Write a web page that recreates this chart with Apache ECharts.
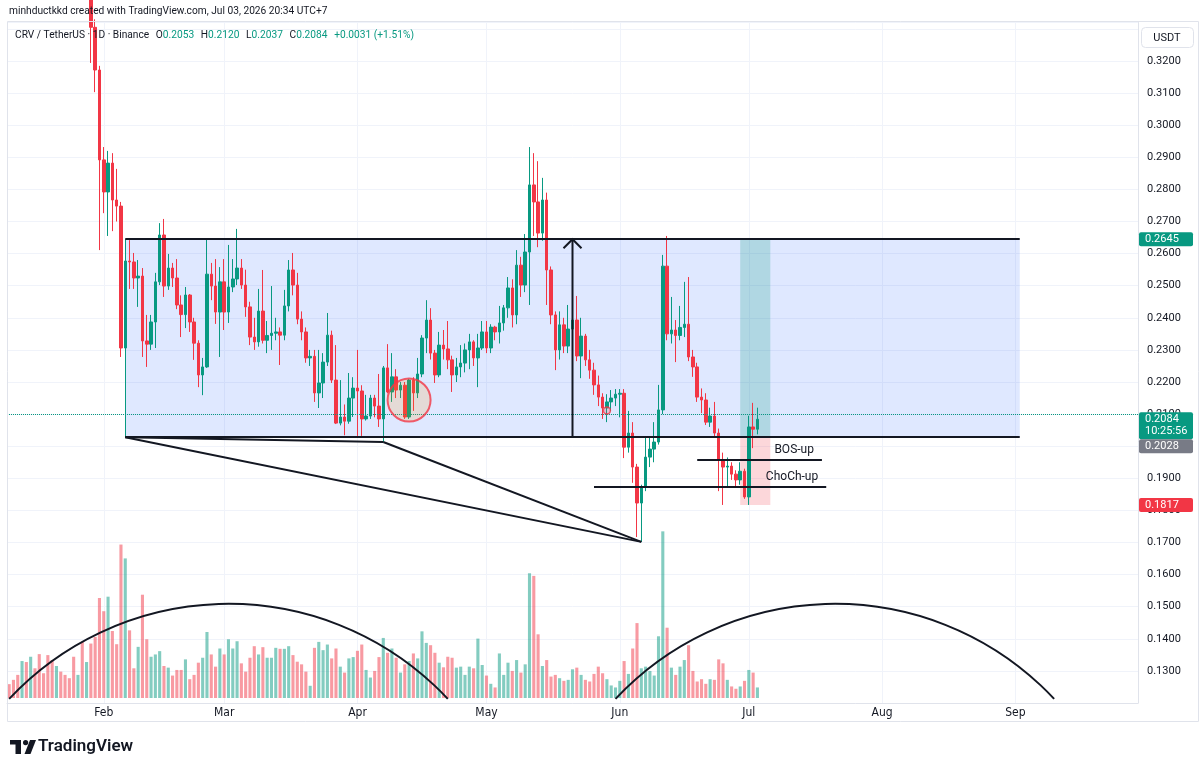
<!DOCTYPE html>
<html>
<head>
<meta charset="utf-8">
<title>CRV / TetherUS 1D</title>
<script src="https://cdn.jsdelivr.net/npm/echarts@6/dist/echarts.min.js"></script>
<style>
  html, body { margin: 0; padding: 0; background: #fff; }
  #chart { width: 1200px; height: 772px; }
</style>
</head>
<body>
<div id="chart"></div>
<script>
// one candle per day from firstDay on, [open, high, low, close]
const firstDay = "2026-01-10";
const lastDay = "2026-09-29";
const candles = [
  [0.430, 0.436, 0.421, 0.424], [0.424, 0.428, 0.415, 0.418], [0.418, 0.421, 0.408, 0.411], [0.411, 0.420, 0.406, 0.416],
  [0.416, 0.419, 0.405, 0.408], [0.408, 0.417, 0.404, 0.413], [0.413, 0.415, 0.401, 0.404], [0.404, 0.407, 0.396, 0.399],
  [0.399, 0.402, 0.392, 0.395], [0.395, 0.398, 0.385, 0.388], [0.388, 0.391, 0.379, 0.382], [0.382, 0.390, 0.378, 0.387],
  [0.387, 0.389, 0.376, 0.379], [0.379, 0.382, 0.371, 0.374], [0.374, 0.377, 0.366, 0.369], [0.369, 0.372, 0.360, 0.363],
  [0.363, 0.370, 0.359, 0.367], [0.367, 0.369, 0.353, 0.356], [0.356, 0.362, 0.351, 0.359], [0.359, 0.361, 0.3194, 0.3305],
  [0.3305, 0.3330, 0.3103, 0.3172], [0.3172, 0.3185, 0.2611, 0.2892],
  // Feb
  [0.2892, 0.2932, 0.2726, 0.2792], [0.2792, 0.2920, 0.2655, 0.2882], [0.2882, 0.2913, 0.2670, 0.2767], [0.2767, 0.2864, 0.2700, 0.2748],
  [0.2748, 0.2761, 0.2278, 0.2306], [0.2306, 0.2645, 0.2028, 0.2577], [0.2577, 0.2642, 0.2490, 0.2574], [0.2574, 0.2602, 0.2490, 0.2524],
  [0.2524, 0.2580, 0.2434, 0.2530], [0.2530, 0.2555, 0.2278, 0.2328], [0.2328, 0.2409, 0.2247, 0.2318], [0.2318, 0.2409, 0.2300, 0.2387],
  [0.2387, 0.2540, 0.2306, 0.2512], [0.2512, 0.2695, 0.2502, 0.2658], [0.2658, 0.2708, 0.2465, 0.2499], [0.2499, 0.2599, 0.2487, 0.2555],
  [0.2555, 0.2571, 0.2496, 0.2524], [0.2524, 0.2583, 0.2427, 0.2440], [0.2440, 0.2470, 0.2340, 0.2410], [0.2410, 0.2496, 0.2368, 0.2471],
  [0.2471, 0.2474, 0.2356, 0.2387], [0.2387, 0.2400, 0.2269, 0.2321], [0.2321, 0.2330, 0.2184, 0.2222], [0.2222, 0.2275, 0.2159, 0.2247],
  [0.2247, 0.2645, 0.2244, 0.2536], [0.2536, 0.2571, 0.2455, 0.2499], [0.2499, 0.2583, 0.2381, 0.2418], [0.2418, 0.2558, 0.2278, 0.2512],
  // Mar
  [0.2512, 0.2583, 0.2362, 0.2418], [0.2418, 0.2627, 0.2384, 0.2496], [0.2496, 0.2583, 0.2480, 0.2521], [0.2521, 0.2677, 0.2502, 0.2555],
  [0.2555, 0.2583, 0.2490, 0.2502], [0.2502, 0.2550, 0.2403, 0.2434], [0.2434, 0.2450, 0.2315, 0.2340], [0.2340, 0.2400, 0.2300, 0.2325],
  [0.2325, 0.2490, 0.2310, 0.2421], [0.2421, 0.2549, 0.2320, 0.2330], [0.2330, 0.2390, 0.2290, 0.2345], [0.2345, 0.2499, 0.2300, 0.2352],
  [0.2352, 0.2400, 0.2330, 0.2356], [0.2356, 0.2370, 0.2253, 0.2346], [0.2346, 0.2487, 0.2330, 0.2437], [0.2437, 0.2580, 0.2420, 0.2549],
  [0.2549, 0.2602, 0.2470, 0.2502], [0.2502, 0.2540, 0.2380, 0.2396], [0.2396, 0.2420, 0.2330, 0.2356], [0.2356, 0.2370, 0.2260, 0.2275],
  [0.2275, 0.2300, 0.2250, 0.2280], [0.2280, 0.2300, 0.2138, 0.2166], [0.2166, 0.2300, 0.2119, 0.2197], [0.2197, 0.2290, 0.2150, 0.2262],
  [0.2262, 0.2415, 0.2250, 0.2346], [0.2346, 0.2360, 0.2197, 0.2206], [0.2206, 0.2315, 0.2069, 0.2072], [0.2072, 0.2206, 0.2065, 0.2091],
  [0.2091, 0.2130, 0.2034, 0.2078], [0.2078, 0.2228, 0.2070, 0.2150], [0.2150, 0.2215, 0.2091, 0.2181],
  // Apr
  [0.2181, 0.2300, 0.2032, 0.2172], [0.2172, 0.2190, 0.2032, 0.2085], [0.2085, 0.2160, 0.2080, 0.2094], [0.2094, 0.2160, 0.2085, 0.2150],
  [0.2150, 0.2160, 0.2090, 0.2125], [0.2125, 0.2225, 0.2060, 0.2085], [0.2085, 0.2250, 0.2013, 0.2244], [0.2244, 0.2318, 0.2165, 0.2169],
  [0.2169, 0.2290, 0.2138, 0.2216], [0.2216, 0.2240, 0.2150, 0.2175], [0.2175, 0.2200, 0.2150, 0.2190], [0.2190, 0.2200, 0.2085, 0.2091],
  [0.2091, 0.2210, 0.2085, 0.2206], [0.2206, 0.2215, 0.2110, 0.2166], [0.2166, 0.2275, 0.2150, 0.2225], [0.2225, 0.2346, 0.2215, 0.2337],
  [0.2337, 0.2455, 0.2290, 0.2393], [0.2393, 0.2430, 0.2270, 0.2290], [0.2290, 0.2300, 0.2197, 0.2222], [0.2222, 0.2356, 0.2215, 0.2315],
  [0.2315, 0.2362, 0.2270, 0.2303], [0.2303, 0.2390, 0.2240, 0.2269], [0.2269, 0.2282, 0.2169, 0.2222], [0.2222, 0.2275, 0.2200, 0.2247],
  [0.2247, 0.2315, 0.2215, 0.2259], [0.2259, 0.2320, 0.2230, 0.2300], [0.2300, 0.2350, 0.2240, 0.2325], [0.2325, 0.2330, 0.2250, 0.2275],
  [0.2275, 0.2350, 0.2184, 0.2306], [0.2306, 0.2390, 0.2300, 0.2356],
  // May
  [0.2356, 0.2390, 0.2290, 0.2306], [0.2306, 0.2380, 0.2290, 0.2371], [0.2371, 0.2375, 0.2330, 0.2356], [0.2356, 0.2437, 0.2320, 0.2384],
  [0.2384, 0.2440, 0.2360, 0.2431], [0.2431, 0.2527, 0.2400, 0.2493], [0.2493, 0.2520, 0.2370, 0.2409], [0.2409, 0.2611, 0.2380, 0.2564],
  [0.2564, 0.2590, 0.2465, 0.2502], [0.2502, 0.2661, 0.2480, 0.2605], [0.2605, 0.2932, 0.2440, 0.2814], [0.2814, 0.2913, 0.2655, 0.2761],
  [0.2761, 0.2888, 0.2620, 0.2664], [0.2664, 0.2836, 0.2640, 0.2767], [0.2767, 0.2790, 0.2440, 0.2549], [0.2549, 0.2560, 0.2380, 0.2409],
  [0.2409, 0.2420, 0.2237, 0.2300], [0.2300, 0.2420, 0.2270, 0.2378], [0.2378, 0.2400, 0.2290, 0.2312], [0.2312, 0.2440, 0.2290, 0.2365],
  [0.2365, 0.2477, 0.2300, 0.2393], [0.2393, 0.2468, 0.2265, 0.2281], [0.2281, 0.2400, 0.2212, 0.2343], [0.2343, 0.2350, 0.2250, 0.2269],
  [0.2269, 0.2300, 0.2210, 0.2237], [0.2237, 0.2260, 0.2160, 0.2191], [0.2191, 0.2220, 0.2125, 0.2153], [0.2153, 0.2165, 0.2085, 0.2119],
  [0.2119, 0.2162, 0.2075, 0.2138], [0.2138, 0.2175, 0.2110, 0.2150], [0.2150, 0.2178, 0.2125, 0.2162],
  // Jun
  [0.2162, 0.2178, 0.2090, 0.2165], [0.2165, 0.2178, 0.1963, 0.1997], [0.1997, 0.2110, 0.1980, 0.2041], [0.2041, 0.2075, 0.1886, 0.1935],
  [0.1935, 0.1945, 0.1717, 0.1823], [0.1823, 0.1880, 0.1702, 0.1873], [0.1873, 0.2028, 0.1860, 0.1966], [0.1966, 0.2028, 0.1935, 0.1991],
  [0.1991, 0.2075, 0.1950, 0.2013], [0.2013, 0.2191, 0.2005, 0.2113], [0.2113, 0.2596, 0.2100, 0.2561], [0.2561, 0.2655, 0.2330, 0.2350],
  [0.2350, 0.2465, 0.2320, 0.2362], [0.2362, 0.2393, 0.2262, 0.2345], [0.2345, 0.2437, 0.2330, 0.2370], [0.2370, 0.2512, 0.2340, 0.2380],
  [0.2380, 0.2527, 0.2265, 0.2278], [0.2278, 0.2300, 0.2216, 0.2247], [0.2247, 0.2260, 0.2138, 0.2153], [0.2153, 0.2180, 0.2103, 0.2144],
  [0.2144, 0.2165, 0.2066, 0.2075], [0.2075, 0.2120, 0.2060, 0.2094], [0.2094, 0.2138, 0.2030, 0.2041], [0.2041, 0.2055, 0.1860, 0.1957],
  [0.1957, 0.1980, 0.1817, 0.1935], [0.1935, 0.1965, 0.1873, 0.1938], [0.1938, 0.1950, 0.1895, 0.1913], [0.1913, 0.1925, 0.1873, 0.1895],
  [0.1895, 0.1950, 0.1880, 0.1922], [0.1922, 0.1930, 0.1836, 0.1842],
  // Jul
  [0.1842, 0.2095, 0.1817, 0.2060], [0.2060, 0.2135, 0.1994, 0.2053], [0.2053, 0.2120, 0.2037, 0.2084]
];
// daily volume, millions
const volumes = [
  4.2, 5.5, 7.0, 11.2, 10.9, 12.5, 9.0, 13.3, 7.5, 13.0, 11.5, 9.7, 8.0, 7.0, 6.0, 12.5, 7.0, 17.0, 10.9, 16.5, 18.5, 30.3,
  26.3, 30.7, 20.3, 16.3, 46.5, 42.3, 20.5, 9.0, 15.5, 31.3, 17.8, 12.5, 13.2, 14.2, 9.7, 9.2, 6.8, 8.5, 8.5, 11.7, 5.7, 7.0, 10.7, 12.2, 20.0, 13.2, 9.5, 15.0,
  13.2, 17.8, 15.0, 17.2, 10.5, 8.0, 12.2, 15.7, 13.2, 15.4, 12.2, 12.2, 15.2, 14.9, 14.9, 15.7, 13.0, 11.0, 10.2, 8.0, 3.7, 15.2, 17.0, 14.5, 16.2, 12.0, 15.0, 9.5, 7.7, 12.0, 12.4,
  14.3, 16.2, 8.5, 6.2, 8.2, 12.4, 18.2, 13.7, 15.0, 12.2, 7.7, 10.2, 11.2, 13.5, 12.0, 20.2, 16.7, 16.0, 13.7, 10.7, 9.3, 12.5, 12.2, 9.2, 9.5, 7.0, 9.5, 9.0, 18.0, 10.0,
  6.8, 4.3, 3.2, 13.5, 7.0, 10.7, 8.2, 11.5, 7.7, 10.2, 37.8, 37.0, 19.3, 9.7, 11.5, 6.5, 7.0, 6.0, 5.2, 5.5, 8.7, 9.2, 7.0, 5.5, 5.0, 7.3, 9.5, 7.5, 5.7, 3.8, 3.2,
  5.2, 11.2, 7.3, 15.0, 22.7, 9.0, 9.5, 8.2, 6.8, 18.7, 50.5, 21.3, 9.2, 7.0, 9.5, 11.5, 16.0, 8.2, 5.0, 5.7, 4.3, 5.7, 5.5, 11.7, 10.5, 5.5, 3.5, 2.8, 3.5, 5.2,
  8.5, 7.7, 3.2
];
const monthNames = ["Jan", "Feb", "Mar", "Apr", "May", "Jun", "Jul", "Aug", "Sep", "Oct", "Nov", "Dec"];

// drawings, anchored on [day, price]
const rangeTop = 0.2645;
const rangeBottom = 0.2028;
const rangeFrom = "2026-02-06";
const rangeTo = "2026-09-02";
const wedgePoints = [["2026-02-06", 0.2028], ["2026-04-07", 0.2013], ["2026-06-06", 0.1702]];
const arrowDay = "2026-05-21";
const bosUp = {from: "2026-06-19", to: "2026-07-18", price: 0.1957};
const chochUp = {from: "2026-05-26", to: "2026-07-19", price: 0.1873};
const position = {from: "2026-06-29", to: "2026-07-06", entry: 0.2028, target: 0.2645, stop: 0.1817};
const circleMark = ["2026-04-13", 0.2144];
const dotMark = ["2026-05-29", 0.2111];
const arcAnchors = [
  [["2026-01-10", 0.1213], ["2026-03-02", 0.1509], ["2026-04-22", 0.1213]],
  [["2026-05-31", 0.1213], ["2026-07-21", 0.1509], ["2026-09-10", 0.1213]]
];
const lastPrice = 0.2084;
const countdown = "10:25:56";

const UP = "#089981";
const DOWN = "#f23645";
const TEXT = "#131722";
const FONT = "Roboto, 'Liberation Sans', sans-serif";

function dayList(from, to) {
  const out = [];
  const d = new Date(from + "T00:00:00Z");
  const end = new Date(to + "T00:00:00Z");
  while (d <= end) {
    out.push(d.toISOString().slice(0, 10));
    d.setUTCDate(d.getUTCDate() + 1);
  }
  return out;
}
const days = dayList(firstDay, lastDay);
const dayIndex = (d) => days.indexOf(d);
const isMonthStart = (idx, val) => val.slice(8) === "01";

const candleData = candles.map(c => [c[0], c[3], c[2], c[1]]);
const volumeData = volumes.map((v, i) => ({
  value: v,
  itemStyle: {color: candles[i][3] >= candles[i][0] ? "rgba(8,153,129,0.5)" : "rgba(242,54,69,0.5)"}
}));

const segment = (a, b, extra) => [Object.assign({coord: a}, extra || {}), {coord: b}];
const lineLabel = (text) => ({
  label: {show: true, formatter: text, position: "insideEndTop", color: TEXT, fontSize: 12, fontFamily: FONT, distance: [8, 4]}
});

const chart = echarts.init(document.getElementById("chart"));

const option = {
  animation: false,
  backgroundColor: "#ffffff",
  textStyle: {fontFamily: FONT},
  grid: [
    {left: 7, right: 62, top: 22.5, bottom: 69},
    {left: 7, right: 62, top: 500, bottom: 74}
  ],
  xAxis: [
    {
      type: "category", data: days, boundaryGap: true,
      axisLine: {lineStyle: {color: "#e0e3eb"}},
      axisTick: {show: false},
      axisLabel: {
        interval: isMonthStart, margin: 4, color: TEXT, fontSize: 12,
        fontFamily: "'Liberation Sans Narrow', 'DejaVu Sans Condensed', sans-serif",
        formatter: (v) => monthNames[+v.slice(5, 7) - 1]
      },
      splitLine: {show: true, interval: isMonthStart, alignWithLabel: true, lineStyle: {color: "#f0f3fa"}}
    },
    {type: "category", gridIndex: 1, data: days, boundaryGap: true, show: false}
  ],
  yAxis: [
    {
      type: "value", position: "right", min: 0.12, max: 0.332, interval: 0.01, scale: true,
      axisLine: {show: true, lineStyle: {color: "#e0e3eb"}},
      axisTick: {show: false},
      axisLabel: {
        margin: 9, color: TEXT, fontSize: 11, fontFamily: FONT, showMinLabel: false, showMaxLabel: false,
        formatter: (v) => (v > 0.325 ? "" : v.toFixed(4))
      },
      splitLine: {lineStyle: {color: "#f0f3fa"}}
    },
    {type: "value", gridIndex: 1, min: 0, max: 60, show: false}
  ],
  series: [
    {
      name: "range", type: "line", data: [], z: 1, silent: true,
      markArea: {
        silent: true,
        itemStyle: {color: "rgba(41,98,255,0.15)"},
        data: [[{xAxis: rangeFrom, yAxis: rangeTop}, {xAxis: rangeTo, yAxis: rangeBottom}]]
      }
    },
    {
      name: "volume", type: "bar", xAxisIndex: 1, yAxisIndex: 1, data: volumeData,
      barWidth: "72%", z: 1, silent: true
    },
    {
      name: "CRV/USDT", type: "candlestick", data: candleData, z: 3, clip: true, barWidth: 3,
      itemStyle: {color: UP, color0: DOWN, borderColor: UP, borderColor0: DOWN, borderWidth: 1},
      markLine: {
        silent: true, symbol: ["none", "none"], label: {show: false},
        lineStyle: {type: "dotted", color: UP, width: 1},
        data: [{yAxis: lastPrice}]
      }
    },
    {
      name: "position", type: "line", data: [], z: 4, silent: true,
      markArea: {
        silent: true,
        data: [
          [{xAxis: position.from, yAxis: position.target, itemStyle: {color: "rgba(8,153,129,0.22)"}}, {xAxis: position.to, yAxis: position.entry}],
          [{xAxis: position.from, yAxis: position.entry, itemStyle: {color: "rgba(242,54,69,0.2)"}}, {xAxis: position.to, yAxis: position.stop}]
        ]
      }
    },
    {
      name: "lines", type: "line", data: [], z: 5, silent: true,
      markLine: {
        silent: true, symbol: ["none", "none"],
        lineStyle: {type: "solid", color: TEXT, width: 2},
        label: {show: false},
        data: [
          segment([rangeFrom, rangeTop], [rangeTo, rangeTop]),
          segment([rangeFrom, rangeBottom], [rangeTo, rangeBottom]),
          segment(wedgePoints[0], wedgePoints[1]),
          segment(wedgePoints[0], wedgePoints[2]),
          segment(wedgePoints[1], wedgePoints[2]),
          segment([bosUp.from, bosUp.price], [bosUp.to, bosUp.price], lineLabel("BOS-up")),
          segment([chochUp.from, chochUp.price], [chochUp.to, chochUp.price], lineLabel("ChoCh-up"))
        ]
      }
    },
    {
      name: "arrow", type: "custom", z: 5, silent: true,
      data: [[dayIndex(arrowDay), rangeBottom, rangeTop]],
      renderItem: function (params, api) {
        const p0 = api.coord([api.value(0), api.value(1)]);
        const p1 = api.coord([api.value(0), api.value(2)]);
        const style = {stroke: TEXT, lineWidth: 2, fill: "none"};
        return {
          type: "group",
          children: [
            {type: "line", shape: {x1: p0[0], y1: p0[1], x2: p1[0], y2: p1[1]}, style: style},
            {type: "polyline", shape: {points: [[p1[0] - 9, p1[1] + 9], [p1[0], p1[1]], [p1[0] + 9, p1[1] + 9]]}, style: style}
          ]
        };
      }
    },
    {
      name: "marks", type: "scatter", z: 5, silent: true,
      data: [
        {value: circleMark, symbolSize: 43, itemStyle: {color: "rgba(255,152,0,0.2)", borderColor: DOWN, borderWidth: 2}},
        {value: dotMark, symbolSize: 7, itemStyle: {color: "rgba(242,54,69,0.25)", borderColor: DOWN, borderWidth: 1.5}}
      ]
    },
    {
      name: "arcs", type: "custom", z: 5, silent: true,
      data: arcAnchors.map(a => [dayIndex(a[0][0]), a[0][1], dayIndex(a[1][0]), a[1][1], dayIndex(a[2][0]), a[2][1]]),
      renderItem: function (params, api) {
        const a = api.coord([api.value(0), api.value(1)]);
        const b = api.coord([api.value(2), api.value(3)]);
        const c = api.coord([api.value(4), api.value(5)]);
        const d = 2 * (a[0] * (b[1] - c[1]) + b[0] * (c[1] - a[1]) + c[0] * (a[1] - b[1]));
        const sa = a[0] * a[0] + a[1] * a[1];
        const sb = b[0] * b[0] + b[1] * b[1];
        const sc = c[0] * c[0] + c[1] * c[1];
        const cx = (sa * (b[1] - c[1]) + sb * (c[1] - a[1]) + sc * (a[1] - b[1])) / d;
        const cy = (sa * (c[0] - b[0]) + sb * (a[0] - c[0]) + sc * (b[0] - a[0])) / d;
        const r = Math.hypot(a[0] - cx, a[1] - cy);
        return {
          type: "arc",
          shape: {cx: cx, cy: cy, r: r, startAngle: Math.atan2(a[1] - cy, a[0] - cx), endAngle: Math.atan2(c[1] - cy, c[0] - cx), clockwise: true},
          style: {stroke: TEXT, lineWidth: 2, fill: "none"}
        };
      }
    }
  ]
};

chart.setOption(option);

// price tags on the right axis
const py = (p) => chart.convertToPixel({yAxisIndex: 0}, p);
const tagX = 1139;
const tagW = 54;
function tag(top, h, bg, lines) {
  const els = [{type: "rect", shape: {x: tagX, y: top, width: tagW, height: h, r: 2}, style: {fill: bg}, z: 100}];
  lines.forEach((t, i) => {
    els.push({
      type: "text", x: tagX + 6, y: top + 7 + i * 12, z: 101,
      style: {text: t, fill: "#ffffff", font: "11px " + FONT, textVerticalAlign: "middle"}
    });
  });
  return els;
}
const yLast = py(lastPrice);
const graphics = []
  .concat(tag(py(position.target) - 7, 14, UP, [position.target.toFixed(4)]))
  .concat(tag(yLast - 7, 27, UP, [lastPrice.toFixed(4), countdown]))
  .concat(tag(yLast + 20, 14, "#787b86", [position.entry.toFixed(4)]))
  .concat(tag(py(position.stop) - 7, 14, DOWN, [position.stop.toFixed(4)]));

graphics.push(
  {type: "rect", shape: {x: 7.5, y: 21.5, width: 1191, height: 700}, style: {fill: "none", stroke: "#e0e3eb", lineWidth: 1}, z: 50},
  {type: "rect", shape: {x: 1141.5, y: 27.5, width: 52, height: 20, r: 4}, style: {fill: "#ffffff", stroke: "#e0e3eb", lineWidth: 1}, z: 60},
  {type: "text", x: 1167, y: 38, z: 61, style: {text: "USDT", fill: TEXT, font: "11px " + FONT, textAlign: "center", textVerticalAlign: "middle"}},
  {type: "text", x: 9, y: 11, z: 60, style: {text: "minhductkkd created with TradingView.com, Jul 03, 2026 20:34 UTC+7", fill: TEXT, font: "10.2px " + FONT, textVerticalAlign: "middle"}},
  {
    type: "text", x: 15, y: 35, z: 60,
    style: {
      text: "{n|CRV / TetherUS · 1D · Binance}  {n|O}{v|0.2053}  {n|H}{v|0.2120}  {n|L}{v|0.2037}  {n|C}{v|0.2084}  {v|+0.0031 (+1.51%)}",
      textVerticalAlign: "middle",
      rich: {
        n: {fill: TEXT, fontSize: 10.2, fontFamily: FONT},
        v: {fill: UP, fontSize: 10.2, fontFamily: FONT}
      }
    }
  },
  {
    type: "group", x: 10, y: 740, z: 60,
    children: [
      {type: "rect", shape: {x: 0, y: 0, width: 11, height: 4.5}, style: {fill: TEXT}},
      {type: "rect", shape: {x: 5.5, y: 0, width: 5.5, height: 14}, style: {fill: TEXT}},
      {type: "circle", shape: {cx: 15.6, cy: 2.6, r: 2.6}, style: {fill: TEXT}},
      {type: "polygon", shape: {points: [[20, 0], [26, 0], [20.5, 14], [14.5, 14]]}, style: {fill: TEXT}}
    ]
  },
  {type: "text", x: 38, y: 747, z: 60, style: {text: "TradingView", fill: TEXT, font: "600 17px " + FONT, textVerticalAlign: "middle"}}
);

chart.setOption({graphic: graphics});
</script>
</body>
</html>
